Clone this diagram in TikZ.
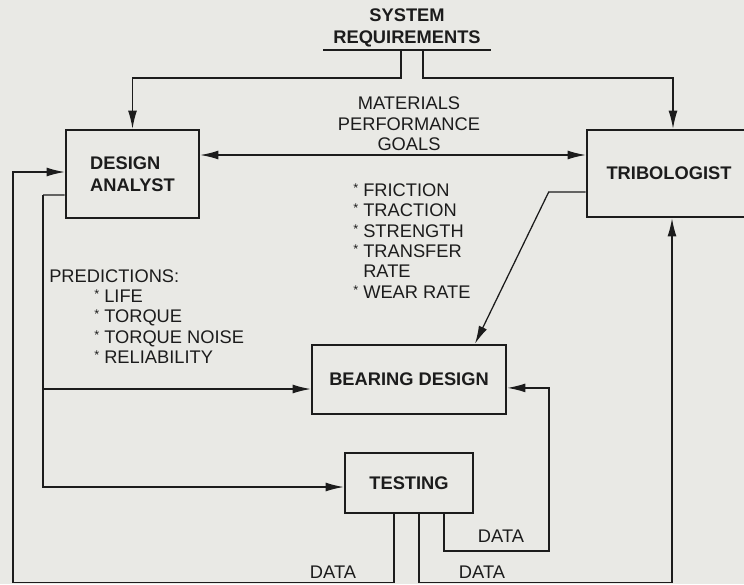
\documentclass[tikz,border=0pt]{standalone}
\usepackage{fontspec}
\setmainfont{Liberation Sans}
\usetikzlibrary{arrows.meta}
\definecolor{inkDark}{RGB}{28,28,28}
\definecolor{paperGray}{RGB}{233,233,229}
\newcommand{\itemstar}{\raisebox{2.8pt}{\fontsize{9}{9}\selectfont*}\ }

\begin{document}
\begin{tikzpicture}[
    x=0.25mm, y=-0.25mm,
    font=\fontsize{13}{14.5}\selectfont, text=inkDark,
    box/.style={draw=inkDark, line width=1.8pt, align=center, font=\fontsize{13}{15.5}\selectfont\bfseries},
    title/.style={align=center, inner xsep=7pt, inner ysep=2pt, font=\fontsize{13}{15.5}\selectfont\bfseries},
    note/.style={align=left, inner sep=0pt},
    wire/.style={draw=inkDark, line width=0.9pt},
    arrow/.style={wire, -{Latex[length=4.5mm, width=2.2mm]}},
    arrowboth/.style={wire, {Latex[length=4.5mm, width=2.2mm]}-{Latex[length=4.5mm, width=2.2mm]}}
]
    \useasboundingbox (0,0) rectangle (744,584);
    \fill[paperGray] (0,0) rectangle (744,584);
    \clip (0,0) rectangle (744,584);

    % Boxes
    \node[title, anchor=south] (sysreq) at (407,50) {SYSTEM\\REQUIREMENTS};
    \node[box, align=left, minimum width=33.25mm, minimum height=22mm] (analyst) at (132.5,174) {DESIGN\\ANALYST};
    \node[box, minimum width=41mm, minimum height=21.75mm] (tribo) at (669,173.5) {TRIBOLOGIST};
    \node[box, minimum width=48.5mm, minimum height=17.25mm] (bearing) at (409,379.5) {BEARING DESIGN};
    \node[box, minimum width=32mm, minimum height=15mm] (testing) at (409,483) {TESTING};

    % Texts
    \node[note, align=center] (goals) at (409,124) {MATERIALS\\PERFORMANCE\\GOALS};
    \node[note, anchor=west] (props) at (353,241) {\itemstar FRICTION\\\itemstar TRACTION\\\itemstar STRENGTH\\\itemstar TRANSFER\\\phantom{\itemstar}RATE\\\itemstar WEAR RATE};
    \node[note, anchor=west] (predictions) at (49,316.5) {PREDICTIONS:\\\hspace*{32pt}\itemstar LIFE\\\hspace*{32pt}\itemstar TORQUE\\\hspace*{32pt}\itemstar TORQUE NOISE\\\hspace*{32pt}\itemstar RELIABILITY};
    \node[note] (dataLeft) at (333,572.5) {DATA};
    \node[note] (dataRight) at (482,572) {DATA};
    \node[note] (dataLoop) at (501,536.5) {DATA};

    % Coordinates
    \coordinate (predTop) at (43,195);
    \coordinate (predBranch) at (43,389);
    \coordinate (floorLeft) at (13,582.5);
    \coordinate (floorRight) at (672,582.5);
    \coordinate (loopCorner) at (549,551);

    % Requirements
    \draw[wire] (sysreq.south west) -- (sysreq.south east);
    \draw[arrow] ([xshift=-1.5mm]sysreq.south) -- ++(0,28) -| (analyst.north);
    \draw[arrow] ([xshift=4mm]sysreq.south) -- ++(0,28) -| ([xshift=1mm]tribo.north);
    \draw[arrowboth] ([yshift=4.75mm]analyst.east) -- ([yshift=4.75mm]analyst.east -| tribo.west);
    \draw[arrow] ([yshift=-4.6mm]tribo.west) -- ++(-37,0) -- ([xshift=16.5mm]bearing.north);

    % Predictions
    \draw[wire] ([yshift=-5.25mm]analyst.west) -- (predTop);
    \draw[arrow] (predTop) |- ([yshift=-1mm]testing.west);
    \draw[arrow] (predBranch) -- (predBranch -| bearing.west);

    % Data loops
    \draw[arrow] ([xshift=-3.75mm]testing.south) |- (floorLeft) |- ([yshift=0.5mm]analyst.west);
    \draw[arrow] ([xshift=2.5mm]testing.south) |- (floorRight) -- (floorRight |- tribo.south);
    \draw[arrow] ([xshift=8.75mm]testing.south) |- (loopCorner) |- ([yshift=-2.1mm]bearing.east);
\end{tikzpicture}
\end{document}
